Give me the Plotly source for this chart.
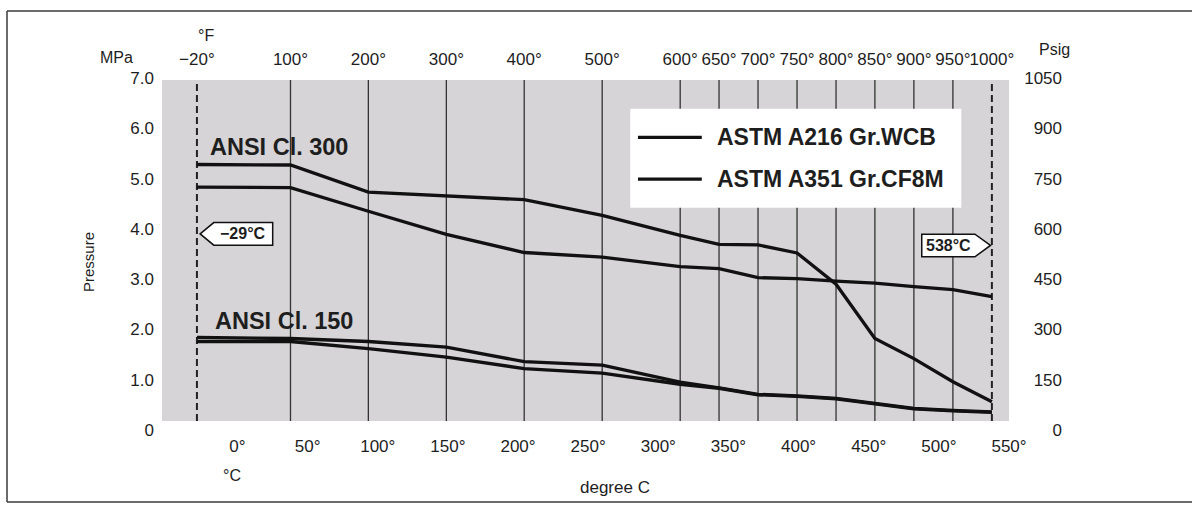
import plotly.graph_objects as go

# ---------------- data ----------------
# temperature points of the P-T curves (deg C) = grid lines of the deg F scale
temps_C = [-28.9, 37.8, 93.3, 148.9, 204.4, 260.0, 315.6, 343.3, 371.1, 398.9, 426.7, 454.4, 482.2, 510.0, 537.8]
temps_F_labels = ["−20°", "100°", "200°", "300°", "400°", "500°", "600°", "650°", "700°",
                  "750°", "800°", "850°", "900°", "950°", "1000°"]

# pressure ratings (MPa)
wcb_cl300 = [5.28, 5.27, 4.73, 4.66, 4.58, 4.27, 3.87, 3.69, 3.68, 3.52, 2.90, 1.82, 1.42, 0.96, 0.56]
cf8m_cl300 = [4.83, 4.82, 4.35, 3.89, 3.53, 3.44, 3.25, 3.21, 3.03, 3.01, 2.96, 2.92, 2.85, 2.79, 2.65]
wcb_cl150 = [1.84, 1.82, 1.76, 1.65, 1.36, 1.29, 0.95, 0.84, 0.71, 0.68, 0.63, 0.53, 0.43, 0.39, 0.36]
cf8m_cl150 = [1.76, 1.76, 1.62, 1.45, 1.22, 1.13, 0.91, 0.83, 0.70, 0.67, 0.62, 0.52, 0.42, 0.38, 0.35]

c_ticks = [0, 50, 100, 150, 200, 250, 300, 350, 400, 450, 500, 550]
c_tick_labels = ["0°", "50°", "100°", "150°", "200°", "250°", "300°", "350°", "400°", "450°", "500°", "550°"]
mpa_ticks = [0, 1, 2, 3, 4, 5, 6, 7]
mpa_tick_labels = ["0", "1.0", "2.0", "3.0", "4.0", "5.0", "6.0", "7.0"]
psig_ticks = [0, 150, 300, 450, 600, 750, 900, 1050]
psig_tick_labels = ["0", "150", "300", "450", "600", "750", "900", "1050"]

legend_labels = ["ASTM A216 Gr.WCB", "ASTM A351 Gr.CF8M"]
class_labels = ["ANSI Cl. 300", "ANSI Cl. 150"]

# ---------------- layout geometry ----------------
W, H = 1192, 517
L, R, T, B = 162, 129, 78, 87
plot_w = W - L - R
plot_h = H - T - B
x_dom_end = (1009 - L) / plot_w
x_range = [-53.8, 550]
y_range = [0, 7.0]
grey_y = [0.18, 6.96]

FONT = "Liberation Sans, Arial, Helvetica, sans-serif"
TXT = "#1e1e1e"
LINE = "#111111"


def px_x(p):
    return (p - L) / plot_w


def px_y(p):
    return (H - B - p) / plot_h


fig = go.Figure()

series = [
    (wcb_cl300, legend_labels[0]),
    (cf8m_cl300, legend_labels[1]),
    (wcb_cl150, legend_labels[0]),
    (cf8m_cl150, legend_labels[1]),
]
for vals, name in series:
    fig.add_trace(go.Scatter(
        x=temps_C, y=vals, mode="lines", name=name, showlegend=False,
        line=dict(color=LINE, width=3.3), hoverinfo="x+y+name",
    ))

# invisible traces so the right and top axes are drawn
fig.add_trace(go.Scatter(x=[temps_C[0]], y=[psig_ticks[0]], yaxis="y2", mode="markers",
                         marker=dict(opacity=0), showlegend=False, hoverinfo="skip"))
fig.add_trace(go.Scatter(x=[temps_C[0]], y=[0], xaxis="x2", mode="markers",
                         marker=dict(opacity=0), showlegend=False, hoverinfo="skip"))

shapes = []
# outer frame (open on the right, as in the scan)
frame_line = dict(color="#3a3a3a", width=1.5)
fx0, fx1, fy_top, fy_bot = px_x(7), px_x(W + 20), px_y(11), px_y(502)
for x0, y0, x1, y1 in [(fx0, fy_top, fx1, fy_top), (fx0, fy_bot, fx1, fy_bot), (fx0, fy_bot, fx0, fy_top)]:
    shapes.append(dict(type="line", xref="paper", yref="paper", x0=x0, y0=y0, x1=x1, y1=y1,
                       line=frame_line, layer="below"))
# grey plotting background
shapes.append(dict(type="rect", xref="x", yref="y", x0=x_range[0], x1=x_range[1],
                   y0=grey_y[0], y1=grey_y[1], line=dict(width=0),
                   fillcolor="#d6d4d6", layer="below"))
# vertical grid lines at the deg F temperatures
for i, t in enumerate(temps_C):
    dashed = i == 0 or i == len(temps_C) - 1
    shapes.append(dict(type="line", xref="x", yref="y", x0=t, x1=t, y0=grey_y[0], y1=grey_y[1],
                       line=dict(color="#222222" if dashed else "#333333",
                                 width=2 if dashed else 1.3,
                                 dash="7px,4px" if dashed else "solid"),
                       layer="below"))

# legend box (drawn manually to match the long line samples)
leg_x0, leg_x1, leg_y0, leg_y1 = 280, 516, 4.42, 6.39
shapes.append(dict(type="rect", xref="x", yref="y", x0=leg_x0, x1=leg_x1, y0=leg_y0, y1=leg_y1,
                   line=dict(width=0), fillcolor="white", layer="below"))
leg_rows = [5.82, 4.99]
for ry in leg_rows:
    shapes.append(dict(type="line", xref="x", yref="y", x0=285.5, x1=331, y0=ry, y1=ry,
                       line=dict(color=LINE, width=3.3)))


# callouts (-29 C and 538 C)
def callout_left(tip_x, y, shoulder, right, hh):
    return (f"M {tip_x},{y} L {shoulder},{y + hh} L {right},{y + hh} "
            f"L {right},{y - hh} L {shoulder},{y - hh} Z")


def callout_right(tip_x, y, shoulder, left, hh):
    return (f"M {tip_x},{y} L {shoulder},{y + hh} L {left},{y + hh} "
            f"L {left},{y - hh} L {shoulder},{y - hh} Z")


c1_y, c2_y, hh = 3.90, 3.67, 0.225
shapes.append(dict(type="path", xref="x", yref="y",
                   path=callout_left(temps_C[0] + 2.3, c1_y, temps_C[0] + 12, temps_C[0] + 54, hh),
                   line=dict(color="#111", width=1.5), fillcolor="white"))
shapes.append(dict(type="path", xref="x", yref="y",
                   path=callout_right(temps_C[-1] - 1.0, c2_y, temps_C[-1] - 12.1, temps_C[-1] - 50, hh),
                   line=dict(color="#111", width=1.5), fillcolor="white"))

annotations = []


def ann(text, x, y, size, xref="paper", yref="paper", xanchor="center", yanchor="middle",
        family=FONT, angle=0):
    annotations.append(dict(text=text, x=x, y=y, xref=xref, yref=yref, xanchor=xanchor,
                            yanchor=yanchor, showarrow=False, textangle=angle,
                            font=dict(family=family, size=size, color=TXT)))


ann("MPa", px_x(116), px_y(58), 16)
ann("°F", px_x(206), px_y(35), 16)
ann("Psig", px_x(1054), px_y(50), 16)
ann("°C", px_x(232), px_y(475), 16)
ann("degree C", px_x(615), px_y(487), 17)
ann("Pressure", px_x(88), px_y(262), 15, angle=-90)

ann(f"<b>{class_labels[0]}</b>", -21, 5.62, 23.5, xref="x", yref="y", xanchor="left")
ann(f"<b>{class_labels[1]}</b>", -17.5, 2.16, 23.5, xref="x", yref="y", xanchor="left")

for ry, lab in zip(leg_rows, legend_labels):
    ann(f"<b>{lab}</b>", 340.3, ry, 23, xref="x", yref="y", xanchor="left")

ann("<b>−29°C</b>", temps_C[0] + 33, c1_y, 16, xref="x", yref="y")
ann("<b>538°C</b>", temps_C[-1] - 31, c2_y, 16, xref="x", yref="y")

tickfont = dict(family=FONT, size=17, color=TXT)

fig.update_layout(
    width=W, height=H,
    margin=dict(l=L, r=R, t=T, b=B, autoexpand=False),
    paper_bgcolor="white", plot_bgcolor="rgba(0,0,0,0)",
    showlegend=False,
    shapes=shapes, annotations=annotations,
    xaxis=dict(domain=[0, x_dom_end], range=x_range, tickvals=c_ticks, ticktext=c_tick_labels,
               showgrid=False, zeroline=False, showline=False, ticks="", tickfont=tickfont,
               tickangle=0, ticklabelstandoff=4, automargin=False, fixedrange=True),
    xaxis2=dict(domain=[0, x_dom_end], range=x_range, overlaying="x", side="top", anchor="y",
                tickvals=temps_C, ticktext=temps_F_labels, showgrid=False, zeroline=False,
                showline=False, ticks="", tickfont=tickfont, tickangle=0, ticklabelstandoff=9,
                automargin=False, fixedrange=True),
    yaxis=dict(range=y_range, tickvals=mpa_ticks, ticktext=mpa_tick_labels, showgrid=False,
               zeroline=False, showline=False, ticks="", tickfont=tickfont, ticklabelstandoff=7,
               automargin=False, fixedrange=True),
    yaxis2=dict(range=[y_range[0] * 150, y_range[1] * 150], overlaying="y", anchor="free",
                position=1.0, side="left", tickvals=psig_ticks, ticktext=psig_tick_labels,
                showgrid=False, zeroline=False, showline=False, ticks="", tickfont=tickfont,
                ticklabelstandoff=1, automargin=False, fixedrange=True),
)

fig.write_html(
    "out.html",
    config={"displayModeBar": False},
    post_script="document.body.style.margin='0';document.body.style.overflow='hidden';",
)
